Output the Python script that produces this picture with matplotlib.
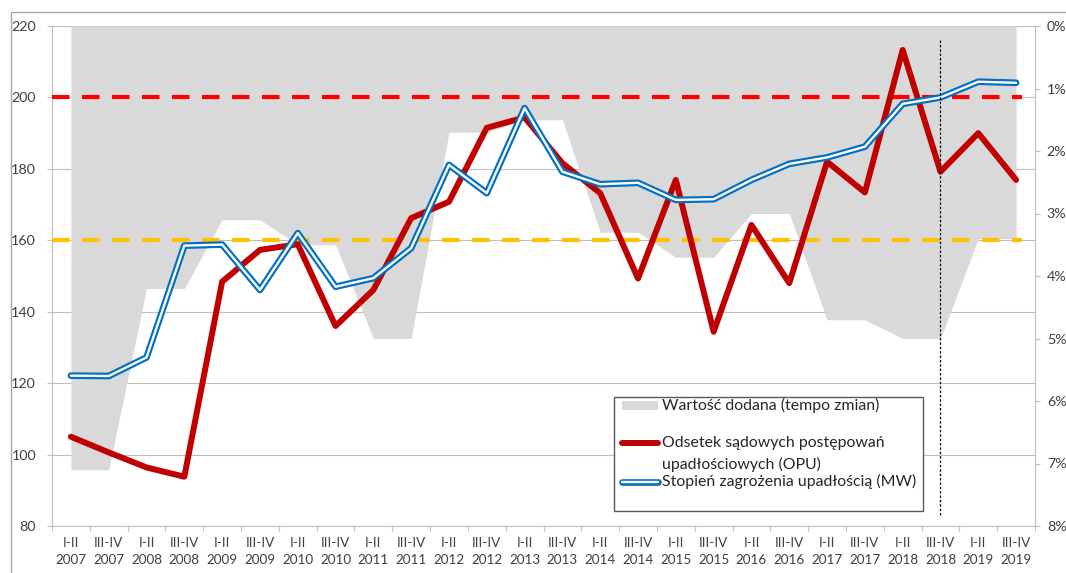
import matplotlib
matplotlib.use("Agg")
import matplotlib.pyplot as plt
from matplotlib.patches import Rectangle
from matplotlib.lines import Line2D
import numpy as np

plt.rcParams['font.family'] = ['Lato', 'DejaVu Sans']

# ---- data ----
halves = ["I-II", "III-IV"] * 13
years = [str(y) for y in range(2007, 2020) for _ in range(2)]
categories = [f"{h}\n{y}" for h, y in zip(halves, years)]

# Wartość dodana (tempo zmian), right axis, %
value_added = [7.1, 7.1, 4.2, 4.2, 3.1, 3.1, 3.5, 3.5, 5.0, 5.0, 1.7, 1.7, 1.5,
               1.5, 3.3, 3.3, 3.7, 3.7, 3.0, 3.0, 4.7, 4.7, 5.0, 5.0, 3.4, 3.4]
# Odsetek sądowych postępowań upadłościowych (OPU), left axis
opu = [105.0, 100.6, 96.4, 93.8, 148.4, 157.3, 158.9, 136.0, 146.1, 166.2, 170.8,
       191.5, 194.4, 181.6, 173.2, 149.3, 176.9, 134.4, 164.3, 148.0, 182.0, 173.4,
       213.3, 179.2, 190.0, 176.9]
# Stopień zagrożenia upadłością (MW), left axis
mw = [122.1, 122.0, 127.2, 158.5, 158.8, 146.1, 162.0, 147.0, 149.4, 157.8, 181.1,
      173.2, 197.0, 179.2, 175.7, 176.1, 171.3, 171.5, 176.9, 181.4, 183.2, 186.2,
      198.2, 200.0, 204.4, 204.1]

thresholds = [200, 160]
threshold_colors = ["#FF0000", "#FFC000"]
forecast_cat = "III-IV\n2018"

left_ticks = [80, 100, 120, 140, 160, 180, 200, 220]
right_ticks = [0, 1, 2, 3, 4, 5, 6, 7, 8]

legend_labels = ["Wartość dodana (tempo zmian)",
                 "Odsetek sądowych postępowań\nupadłościowych (OPU)",
                 "Stopień zagrożenia upadłością (MW)"]

# ---- figure ----
W, H = 1066, 573
fig = plt.figure(figsize=(W / 100, H / 100), dpi=100)
pos = [52 / W, 1 - 526 / H, (1035 - 52) / W, (526 - 26) / H]

x = np.arange(len(categories))
TXT = "#404040"
GRID = "#BFBFBF"
TICK_FS = 10.3
XTICK_FS = 9.7
LEG_FS = 11.4

ax_g = fig.add_axes(pos)
ax_a = fig.add_axes(pos, sharex=ax_g)
ax_l = fig.add_axes(pos, sharex=ax_g, sharey=ax_g)
ax_g.set_zorder(1); ax_a.set_zorder(2); ax_l.set_zorder(3)
for a in (ax_a, ax_l):
    a.patch.set_visible(False)

# grid / left axis / x axis
ax_g.set_xlim(-0.5, len(categories) - 0.5)
ax_g.set_ylim(80, 220)
ax_g.set_yticks(left_ticks)
ax_g.set_yticklabels([str(t) for t in left_ticks])
ax_g.yaxis.grid(True, color=GRID, lw=0.8)
ax_g.set_axisbelow(True)
ax_g.set_xticks(x)
ax_g.set_xticklabels(categories, fontsize=XTICK_FS, color=TXT, linespacing=1.5)
ax_g.set_xticks(np.arange(-0.5, len(categories), 1), minor=True)
ax_g.tick_params(axis='x', which='major', length=0, pad=8)
ax_g.tick_params(axis='x', which='minor', length=3.5, color=GRID, width=0.8)
ax_g.tick_params(axis='y', length=3.5, color=GRID, width=0.8, pad=8,
                 labelsize=TICK_FS, labelcolor=TXT)
for s in ('top', 'right'):
    ax_g.spines[s].set_visible(False)
for s in ('left', 'bottom'):
    ax_g.spines[s].set_color(GRID)
    ax_g.spines[s].set_linewidth(0.8)

# area on right axis
ax_a.fill_between(x, 0, value_added, color="#D9D9D9", lw=0)
ax_a.set_ylim(8, 0)
ax_a.set_yticks(right_ticks)
ax_a.set_yticklabels([f"{t}%" for t in right_ticks])
ax_a.yaxis.tick_right()
ax_a.tick_params(axis='y', length=3.5, color=GRID, width=0.8, pad=5,
                 labelsize=TICK_FS, labelcolor=TXT)
ax_a.tick_params(axis='x', which='both', bottom=False, labelbottom=False)
for s in ('top', 'left', 'bottom'):
    ax_a.spines[s].set_visible(False)
ax_a.spines['right'].set_color(GRID)
ax_a.spines['right'].set_linewidth(0.8)

# lines
ax_l.set_axis_off()
xmax_frac = (25.15 + 0.5) / len(categories)
for t, c in zip(thresholds, threshold_colors):
    ax_l.axhline(t, xmin=0.0, xmax=xmax_frac, color=c, lw=3.0,
                 dashes=(4.2, 3.0))
ax_l.plot(x, opu, color="#C00000", lw=4.3, solid_joinstyle='round',
          solid_capstyle='round')
ax_l.plot(x, mw, color="#0070C0", lw=4.8, solid_joinstyle='round',
          solid_capstyle='round')
ax_l.plot(x, mw, color="white", lw=1.7, solid_joinstyle='round',
          solid_capstyle='round')
ax_l.axvline(categories.index(forecast_cat), ymin=0.022, ymax=0.972,
             color="black", lw=0.9, linestyle=(0, (2, 1.5)))

# outer chart frame
fig.add_artist(Rectangle((11 / W, -0.05), 1.2, (1 - 12 / H) + 0.05,
                         transform=fig.transFigure, fill=False,
                         edgecolor="#A6A6A6", lw=1.0, zorder=0))

# manual legend (figure pixel coords, top-down)
lax = fig.add_axes([0, 0, 1, 1], zorder=10)
lax.set_xlim(0, W); lax.set_ylim(H, 0)
lax.set_axis_off()
lax.patch.set_visible(False)
lax.add_patch(Rectangle((614, 397), 309, 114, facecolor="white",
                        edgecolor="#595959", lw=1.0))
lax.add_patch(Rectangle((622, 400.5), 36, 9.5, facecolor="#D9D9D9", lw=0))
lax.text(662, 405, legend_labels[0], fontsize=LEG_FS, color="#262626", va='center')
lax.add_line(Line2D([622, 658], [443.3, 443.3], color="#C00000", lw=4.3,
                    solid_capstyle='round'))
lax.text(662, 443.3, legend_labels[1].split("\n")[0], fontsize=LEG_FS,
         color="#262626", va='center')
lax.text(662, 464, legend_labels[1].split("\n")[1], fontsize=LEG_FS,
         color="#262626", va='center')
lax.add_line(Line2D([622, 658], [481.7, 481.7], color="#0070C0", lw=4.8,
                    solid_capstyle='round'))
lax.add_line(Line2D([622, 658], [481.7, 481.7], color="white", lw=1.7,
                    solid_capstyle='round'))
lax.text(662, 481.7, legend_labels[2], fontsize=LEG_FS, color="#262626", va='center')

fig.savefig("out.png", dpi=100)
